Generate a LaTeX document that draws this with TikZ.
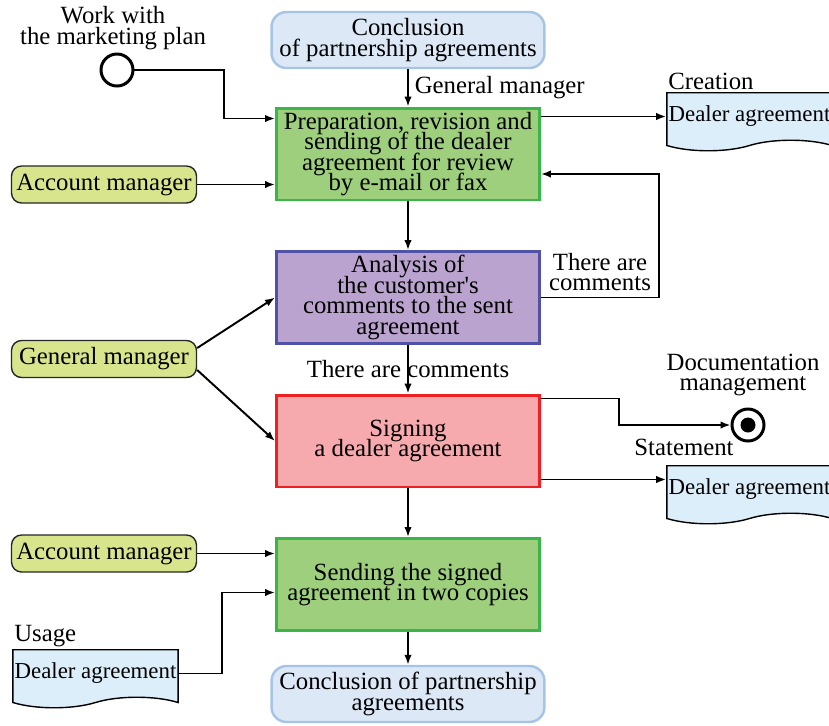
\documentclass[tikz,border=0pt]{standalone}
\usepackage{fontspec}
\setmainfont{Liberation Serif}
\newfontfamily\lserif{Liberation Serif}
\usetikzlibrary{positioning,arrows.meta,shapes.symbols,calc}

\newcommand\mainfont{\lserif\fontsize{14.1}{11.6}\selectfont\lineskiplimit=-20pt\relax}
\newcommand\docfont{\lserif\fontsize{13}{11}\selectfont}

\definecolor{concfill}{RGB}{220,232,246}
\definecolor{concline}{RGB}{166,197,230}
\definecolor{greenfill}{RGB}{158,207,124}
\definecolor{greenline}{RGB}{59,180,74}
\definecolor{purplefill}{RGB}{187,163,207}
\definecolor{purpleline}{RGB}{80,82,165}
\definecolor{pinkfill}{RGB}{246,170,174}
\definecolor{pinkline}{RGB}{237,32,36}
\definecolor{rolefill}{RGB}{217,229,140}
\definecolor{docfill}{RGB}{220,238,250}

\begin{document}
\begin{tikzpicture}[x=0.02cm, y=-0.02cm,
		font=\mainfont,
		conc/.style={rounded corners=0.3cm, draw=concline, fill=concfill, line width=1.4pt, minimum width=5.46cm, minimum height=1.12cm, align=center, inner sep=1pt},
		stepbox/.style={draw, line width=1.7pt, minimum width=5.26cm, minimum height=1.84cm, align=center, inner sep=1pt},
		role/.style={rounded corners=0.2cm, draw=black!85, fill=rolefill, line width=0.8pt, minimum width=3.7cm, minimum height=0.74cm, inner sep=1pt},
		doc/.style={tape, tape bend top=none, tape bend bottom=in and out, tape bend height=6pt, draw, fill=docfill, line width=0.8pt, minimum width=3.26cm, minimum height=1.16cm, inner sep=1pt, font=\docfont},
		arr/.style={-{Latex[length=2mm,width=1.5mm]}, line width=1.1pt}]
				\useasboundingbox (0,0) rectangle (829,725);
				% main column
				\node[conc] (conc1) at (408,40) {Conclusion\\of partnership agreements};
				\node[stepbox, draw=greenline, fill=greenfill] (p1) at (408,154) {Preparation, revision and\\sending of the dealer\\agreement for review\\by e-mail or fax};
				\node[stepbox, draw=purpleline, fill=purplefill] (p2) at (408,297.5) {Analysis of\\the customer's\\comments to the sent\\agreement};
				\node[stepbox, draw=pinkline, fill=pinkfill] (p3) at (408,441) {Signing\\a dealer agreement};
				\node[stepbox, draw=greenline, fill=greenfill] (p4) at (408,584.5) {Sending the signed\\agreement in two copies};
				\node[conc] (conc2) at (408,694) {Conclusion of partnership\\agreements};
				% left side
				\node[align=center] (worklbl) at (113,28) {Work with\\the marketing plan};
				\node[circle, draw, line width=1.7pt, minimum size=0.64cm] (start) at (117,70) {};
				\node[role] (am1) at (104,184.5) {Account manager};
				\node[role] (gm) at (104,359) {General manager};
				\node[role] (am2) at (104,553.5) {Account manager};
				\node[doc] (doc3) at (95.5,673.5) {Dealer agreement};
				\node[anchor=south west, inner sep=1pt] (usage) at (doc3.north west) {Usage};
				% right side
				\node[doc] (doc1) at (749.5,116.5) {Dealer agreement};
				\node[anchor=south west, inner sep=1pt] (creation) at (doc1.north west) {Creation};
				\node[circle, draw, line width=1.7pt, minimum size=0.64cm] (finish) at (748,425) {};
				\node[circle, fill, inner sep=0pt, minimum size=0.3cm] (finishdot) at (finish) {};
				\node[align=center] (doclbl) at (743,375) {Documentation\\management};
				\node[doc] (doc2) at (749.5,489.5) {Dealer agreement};
				\node (statement) at (684,447) {Statement};
				\coordinate (p3out) at ($(p3.south east)+(0,-9)$);
				% connectors
				\draw[arr] (conc1) -- node[right] (gmlbl) {General manager} (p1);
				\draw[arr] (start) -| ($(p1.north west)+(-51,12)$) -- ($(p1.north west)+(0,12)$);
				\draw[arr] (am1) -- (am1 -| p1.west);
				\draw[arr] (p1.east |- doc1.west) -- (doc1.west);
				\draw[arr] (p1) -- (p2);
				\draw[arr] (p2.east) -- node[above, align=center] (commlbl) {There are\\comments} ++(118,0) |- ($(p1.east)+(0,20)$);
				\draw[arr] ([yshift=0.22cm]gm.east) -- (p2.west);
				\draw[arr] ([yshift=-0.22cm]gm.east) -- (p3.west);
				\draw[arr] (p2) -- node (commlbl2) {There are comments} (p3);
				\draw[arr] ($(p3.north east)+(0,5)$) -- ++(78,0) |- (finish);
				\draw[arr] (p3out) -- (p3out -| doc2.west);
				\draw[arr] (p3) -- (p4);
				\draw[arr] (am2) -- (am2 -| p4.west);
				\draw[arr] (doc3.east) -- ++(43,0) |- ($(p4.west)+(0,8)$);
				\draw[arr] (p4) -- (conc2);
			\end{tikzpicture}
\end{document}
